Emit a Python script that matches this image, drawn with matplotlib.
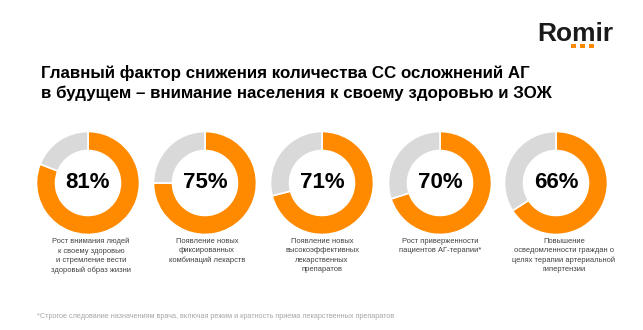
import matplotlib
matplotlib.use("Agg")
from matplotlib import pyplot as plt
from matplotlib.patches import Rectangle

plt.rcParams['font.family'] = ['Liberation Sans', 'DejaVu Sans']

# data
values = [81, 75, 71, 70, 66]
labels = [
    "Рост внимания людей\nк своему здоровью\nи стремление вести\nздоровый образ жизни",
    "Появление новых\nфиксированных\nкомбинаций лекарств",
    "Появление новых\nвысокоэффективных\nлекарственных\nпрепаратов",
    "Рост приверженности\nпациентов АГ-терапии*",
    "Повышение\nосведомленности граждан о\nцелях терапии артериальной\nгипертензии",
]
title = ("Главный фактор снижения количества СС осложнений АГ\n"
         "в будущем – внимание населения к своему здоровью и ЗОЖ")
footnote = "*Строгое следование назначениям врача, включая режим и кратность приема лекарственных препаратов"

ORANGE = "#FF8A00"
GRAY = "#D9D9D9"

W, H = 643, 330
fig = plt.figure(figsize=(W / 100, H / 100), dpi=100)
ax = fig.add_axes([0, 0, 1, 1])

centers_x = [88, 205, 322, 440, 556]
label_x = [91, 207, 322, 440, 564]
cy = H - 183
r = 51.5

for i, v in enumerate(values):
    ax.pie([v, 100 - v], colors=[ORANGE, GRAY], startangle=90, counterclock=False,
           center=(centers_x[i], cy), radius=r,
           wedgeprops=dict(width=r * 0.37, edgecolor="white", linewidth=1.2))
    ax.text(centers_x[i], cy, f"{v}%", ha="center", va="center",
            fontsize=16, fontweight="bold", color="black")
    ax.text(label_x[i], H - 238, labels[i], ha="center", va="top",
            fontsize=5.45, color="#404040", linespacing=1.45)

ax.set_xlim(0, W)
ax.set_ylim(0, H)
ax.set_aspect("auto")
ax.axis("off")

ax.text(41, H - 83, title, ha="left", va="center", fontsize=12.2,
        fontweight="bold", color="black", linespacing=1.35)
ax.text(37, H - 316, footnote, ha="left", va="center", fontsize=5.2, color="#A6A6A6")

# logo
ax.text(613, H - 41, "Romir", ha="right", va="baseline", fontsize=19,
        fontweight="bold", color="#1A1A1A")
for dx in [571, 580, 589]:
    ax.add_patch(Rectangle((dx, H - 48), 5, 4, color=ORANGE, lw=0))

fig.savefig("out.png", dpi=100)
